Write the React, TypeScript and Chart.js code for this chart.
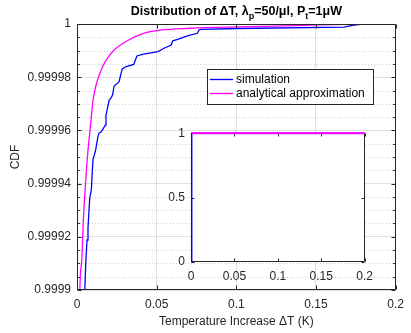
import React, { useEffect, useRef } from 'react';
import { Chart, registerables } from 'chart.js';

Chart.register(...registerables);

// ---------- text ----------
const titleParts = [
  { text: 'Distribution of \u0394T, \u03bb', sub: false },
  { text: 'p', sub: true },
  { text: '=50/\u03bcl, P', sub: false },
  { text: 't', sub: true },
  { text: '=1\u03bcW', sub: false },
];
const xAxisLabel = 'Temperature Increase \u0394T (K)';
const yAxisLabel = 'CDF';
const seriesNames = ['simulation', 'analytical approximation'];

// ---------- ticks ----------
const xTickValues = [0, 0.05, 0.1, 0.15, 0.2];
const xTickLabels = ['0', '0.05', '0.1', '0.15', '0.2'];
const yTickValues = [0.9999, 0.99992, 0.99994, 0.99996, 0.99998, 1];
const yTickLabels = ['0.9999', '0.99992', '0.99994', '0.99996', '0.99998', '1'];
const yMinorPerMajor = 4;

const insetXTickValues = [0, 0.05, 0.1, 0.15, 0.2];
const insetXTickLabels = ['0', '0.05', '0.1', '0.15', '0.2'];
const insetYTickValues = [0, 0.5, 1];
const insetYTickLabels = ['0', '0.5', '1'];

// ---------- data ----------
const simX = [0.0045, 0.0049, 0.0055, 0.0063, 0.0069, 0.0080, 0.0090, 0.0100, 0.0117, 0.0131, 0.0137, 0.0152, 0.0172, 0.0178, 0.0182, 0.0198, 0.0202, 0.0213, 0.0223, 0.0233, 0.0247, 0.0264, 0.0274, 0.0284, 0.0305, 0.0356, 0.0376, 0.0417, 0.0509, 0.0546, 0.0591, 0.0601, 0.0632, 0.0693, 0.0755, 0.0765, 0.0775, 0.1000, 0.1675, 0.1736, 0.1798, 0.2000];
const simY = [0.99985, 0.9999000, 0.9999102, 0.9999188, 0.9999233, 0.9999346, 0.9999376, 0.9999489, 0.9999526, 0.9999576, 0.9999589, 0.9999595, 0.9999614, 0.9999620, 0.9999658, 0.9999702, 0.9999714, 0.9999721, 0.9999733, 0.9999767, 0.9999774, 0.9999783, 0.9999808, 0.9999831, 0.9999839, 0.9999848, 0.9999880, 0.9999887, 0.9999896, 0.9999909, 0.9999921, 0.9999937, 0.9999942, 0.9999955, 0.9999965, 0.9999977, 0.9999980, 0.9999983, 0.9999988, 0.9999996, 1.0, 1.0];

const anaX = [0.0012, 0.0018, 0.0029, 0.0039, 0.0055, 0.0069, 0.0080, 0.0101, 0.0123, 0.0160, 0.0184, 0.0233, 0.0325, 0.0417, 0.0521, 0.0712, 0.1000, 0.1368, 0.1798, 0.2000];
const anaY = [0.99985, 0.9999000, 0.9999102, 0.9999252, 0.9999414, 0.9999526, 0.9999590, 0.9999714, 0.9999778, 0.9999838, 0.9999865, 0.9999902, 0.9999940, 0.9999965, 0.9999977, 0.9999984, 0.9999989, 0.9999994, 1.0, 1.0];

// start of the full-range simulated curve shown in the inset
const insetSimLeadX = [0.0005, 0.0008];
const insetSimLeadY = [0, 0.999];

// ---------- style ----------
const FONT = '"Liberation Sans", Arial, Helvetica, sans-serif';
const AXIS = '#262626';
const BLUE = '#0000ff';
const MAGENTA = '#ff00ff';
const GRID = 'rgba(38,38,38,0.15)';
const MINOR = 'rgba(38,38,38,0.22)';

const pts = (xs: number[], ys: number[]) => xs.map((x, i) => ({ x, y: ys[i] }));

function drawBoxAndTicks(chart: any, xVals: number[], yVals: number[], yMinor: number[], len: number) {
  const { ctx, chartArea: a, scales } = chart;
  const x = scales.x, y = scales.y;
  ctx.save();
  ctx.strokeStyle = AXIS;
  ctx.lineWidth = 1;
  ctx.setLineDash([]);
  const L = Math.round(a.left) + 0.5, R = Math.round(a.right) - 0.5;
  const T = Math.round(a.top) + 0.5, B = Math.round(a.bottom) - 0.5;
  ctx.beginPath();
  xVals.forEach((v) => {
    const px = Math.round(x.getPixelForValue(v)) + 0.5;
    ctx.moveTo(px, B); ctx.lineTo(px, B - len);
    ctx.moveTo(px, T); ctx.lineTo(px, T + len);
  });
  yVals.forEach((v) => {
    const py = Math.round(y.getPixelForValue(v)) + 0.5;
    ctx.moveTo(L, py); ctx.lineTo(L + len, py);
    ctx.moveTo(R, py); ctx.lineTo(R - len, py);
  });
  yMinor.forEach((v) => {
    const py = Math.round(y.getPixelForValue(v)) + 0.5;
    ctx.moveTo(L, py); ctx.lineTo(L + len * 0.6, py);
    ctx.moveTo(R, py); ctx.lineTo(R - len * 0.6, py);
  });
  ctx.stroke();
  ctx.beginPath();
  ctx.rect(L, T, R - L, B - T);
  ctx.stroke();
  ctx.restore();
}

function minorValues(): number[] {
  const out: number[] = [];
  for (let i = 0; i < yTickValues.length - 1; i++) {
    const a = yTickValues[i], b = yTickValues[i + 1];
    for (let k = 1; k < yMinorPerMajor; k++) out.push(a + ((b - a) * k) / yMinorPerMajor);
  }
  return out;
}

const mainDecor = {
  id: 'mainDecor',
  beforeDatasetsDraw(chart: any) {
    const { ctx, chartArea: a, scales } = chart;
    ctx.save();
    ctx.strokeStyle = MINOR;
    ctx.lineWidth = 1;
    ctx.setLineDash([1, 2]);
    ctx.beginPath();
    minorValues().forEach((v) => {
      const py = Math.round(scales.y.getPixelForValue(v)) + 0.5;
      ctx.moveTo(a.left, py);
      ctx.lineTo(a.right, py);
    });
    ctx.stroke();
    ctx.restore();
  },
  afterDatasetsDraw(chart: any) {
    drawBoxAndTicks(chart, xTickValues, yTickValues, minorValues(), 4);
  },
  afterDraw(chart: any) {
    const { ctx, chartArea: a } = chart;
    ctx.save();
    // title
    const big = 'bold 12.5px ' + FONT;
    const small = 'bold 9px ' + FONT;
    let total = 0;
    titleParts.forEach((p) => {
      ctx.font = p.sub ? small : big;
      total += ctx.measureText(p.text).width;
    });
    let tx = (a.left + a.right) / 2 - total / 2;
    const baseY = 15;
    ctx.fillStyle = '#000000';
    ctx.textBaseline = 'alphabetic';
    ctx.textAlign = 'left';
    titleParts.forEach((p) => {
      ctx.font = p.sub ? small : big;
      ctx.fillText(p.text, tx, p.sub ? baseY + 4 : baseY);
      tx += ctx.measureText(p.text).width;
    });
    // legend
    const lx = 207.5, ly = 69.5, lw = 166, lh = 35;
    ctx.fillStyle = '#ffffff';
    ctx.fillRect(lx, ly, lw, lh);
    ctx.strokeStyle = AXIS;
    ctx.lineWidth = 1;
    ctx.strokeRect(lx, ly, lw, lh);
    const colors = [BLUE, MAGENTA];
    const rows = [79.5, 93.5];
    ctx.font = '12px ' + FONT;
    ctx.textBaseline = 'middle';
    seriesNames.forEach((name, i) => {
      ctx.strokeStyle = colors[i];
      ctx.lineWidth = 1.3;
      ctx.beginPath();
      ctx.moveTo(210, rows[i]);
      ctx.lineTo(233, rows[i]);
      ctx.stroke();
      ctx.fillStyle = '#000000';
      ctx.fillText(name, 236, rows[i]);
    });
    ctx.restore();
  },
};

const insetDecor = {
  id: 'insetDecor',
  beforeDraw(chart: any) {
    const { ctx, chartArea: a } = chart;
    ctx.save();
    ctx.fillStyle = '#ffffff';
    ctx.fillRect(a.left, a.top, a.right - a.left, a.bottom - a.top);
    ctx.restore();
  },
  beforeDatasetsDraw(chart: any) {
    drawBoxAndTicks(chart, insetXTickValues, insetYTickValues, [], 3);
  },
};

export default function App() {
  const mainRef = useRef<HTMLCanvasElement | null>(null);
  const insetRef = useRef<HTMLCanvasElement | null>(null);

  useEffect(() => {
    const tickFont = { family: FONT, size: 12 };
    const main = new Chart(mainRef.current as HTMLCanvasElement, {
      type: 'line',
      data: {
        datasets: [
          { label: seriesNames[0], data: pts(simX, simY), borderColor: BLUE, borderWidth: 1.3, pointRadius: 0, tension: 0, order: 1, fill: false },
          { label: seriesNames[1], data: pts(anaX, anaY), borderColor: MAGENTA, borderWidth: 1.3, pointRadius: 0, cubicInterpolationMode: 'monotone', order: 0, fill: false },
        ],
      },
      options: {
        animation: false,
        responsive: false,
        devicePixelRatio: 1,
        events: [],
        layout: { padding: { top: 24, right: 8, left: 0, bottom: 0 } },
        plugins: { legend: { display: false }, tooltip: { enabled: false }, title: { display: false } },
        scales: {
          x: {
            type: 'linear',
            min: 0,
            max: 0.2,
            afterBuildTicks: (s: any) => { s.ticks = xTickValues.map((v) => ({ value: v })); },
            afterFit: (s: any) => { s.height = 43; },
            ticks: {
              autoSkip: false, maxRotation: 0, padding: 7, color: AXIS, font: tickFont,
              callback: (_v: any, i: number) => xTickLabels[i],
            },
            grid: { color: GRID, lineWidth: 1, drawTicks: false },
            border: { display: false },
            title: { display: true, text: xAxisLabel, color: AXIS, font: { family: FONT, size: 12 }, padding: { top: 0, bottom: 4 } },
          },
          y: {
            type: 'linear',
            min: 0.9999,
            max: 1,
            afterBuildTicks: (s: any) => { s.ticks = yTickValues.map((v) => ({ value: v })); },
            afterFit: (s: any) => { s.width = 77; },
            ticks: {
              autoSkip: false, padding: 6, color: AXIS, font: tickFont,
              callback: (_v: any, i: number) => yTickLabels[i],
            },
            grid: { color: GRID, lineWidth: 1, drawTicks: false },
            border: { display: false },
            title: { display: true, text: yAxisLabel, color: AXIS, font: { family: FONT, size: 12 }, padding: { top: 8, bottom: 0 } },
          },
        },
      },
      plugins: [mainDecor],
    } as any);

    const inset = new Chart(insetRef.current as HTMLCanvasElement, {
      type: 'line',
      data: {
        datasets: [
          { label: seriesNames[0], data: pts(insetSimLeadX.concat(simX.slice(1)), insetSimLeadY.concat(simY.slice(1))), borderColor: BLUE, borderWidth: 1.5, pointRadius: 0, tension: 0, order: 1, fill: false, clip: 3 },
          { label: seriesNames[1], data: pts(anaX, anaY), borderColor: MAGENTA, borderWidth: 2, pointRadius: 0, tension: 0, order: 0, fill: false, clip: 3 },
        ],
      },
      options: {
        animation: false,
        responsive: false,
        devicePixelRatio: 1,
        events: [],
        layout: { padding: { top: 11, right: 13, left: 0, bottom: 0 } },
        plugins: { legend: { display: false }, tooltip: { enabled: false }, title: { display: false } },
        scales: {
          x: {
            type: 'linear',
            min: 0,
            max: 0.2,
            afterBuildTicks: (s: any) => { s.ticks = insetXTickValues.map((v) => ({ value: v })); },
            afterFit: (s: any) => { s.height = 28; },
            ticks: {
              autoSkip: false, maxRotation: 0, padding: 7, color: AXIS, font: tickFont,
              callback: (_v: any, i: number) => insetXTickLabels[i],
            },
            grid: { display: false, drawTicks: false },
            border: { display: false },
          },
          y: {
            type: 'linear',
            min: 0,
            max: 1,
            afterBuildTicks: (s: any) => { s.ticks = insetYTickValues.map((v) => ({ value: v })); },
            afterFit: (s: any) => { s.width = 41; },
            ticks: {
              autoSkip: false, padding: 6, color: AXIS, font: tickFont,
              callback: (_v: any, i: number) => insetYTickLabels[i],
            },
            grid: { display: false, drawTicks: false },
            border: { display: false },
          },
        },
      },
      plugins: [insetDecor],
    } as any);

    return () => {
      main.destroy();
      inset.destroy();
    };
  }, []);

  return (
    <div style={{ position: 'absolute', left: 0, top: 0, width: 411, height: 333, background: '#ffffff' }}>
      <canvas ref={mainRef} width={411} height={333} style={{ position: 'absolute', left: 0, top: 0, width: 411, height: 333 }} />
      <canvas ref={insetRef} width={230} height={170} style={{ position: 'absolute', left: 150, top: 120, width: 230, height: 170 }} />
    </div>
  );
}
